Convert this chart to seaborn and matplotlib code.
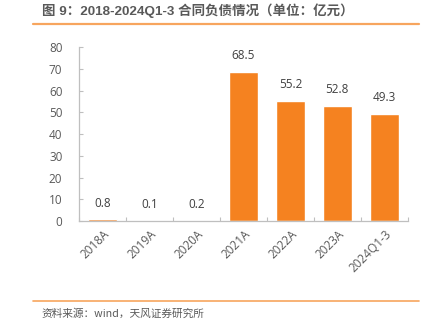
import matplotlib
matplotlib.use("Agg")
import matplotlib.pyplot as plt
import seaborn as sns
import pandas as pd

categories = ["2018A", "2019A", "2020A", "2021A", "2022A", "2023A", "2024Q1-3"]
values = [0.8, 0.1, 0.2, 68.5, 55.2, 52.8, 49.3]
labels = ["0.8", "0.1", "0.2", "68.5", "55.2", "52.8", "49.3"]
yticks = [0, 10, 20, 30, 40, 50, 60, 70, 80]

sns.set_theme(style="white")
plt.rcParams['font.family'] = ['Open Sans', 'Noto Sans CJK SC', 'DejaVu Sans']

BAR = "#F58220"
SPINE = "#BFBFBF"
TXT = "#595959"
LINE = "#F7A55E"

fig = plt.figure(figsize=(4.32, 3.27), dpi=100)
ax = fig.add_axes([0.183, 0.324, 0.761, 0.532])

df = pd.DataFrame({"cat": categories, "val": values})
sns.barplot(data=df, x="cat", y="val", color=BAR, width=0.62, saturation=1, ax=ax)

for i, (v, lab) in enumerate(zip(values, labels)):
    ax.text(i, v + 4.5, lab, ha="center", va="bottom", fontsize=8.5, color="#404040")

ax.set_ylim(0, 80)
ax.set_yticks(yticks)
ax.set_xlim(-0.5, len(categories) - 0.5)
ax.set_xlabel("")
ax.set_ylabel("")
ax.set_xticks([i - 0.5 for i in range(len(categories) + 1)], minor=True)
ax.set_xticks(range(len(categories)))
ax.set_xticklabels(categories, rotation=45, ha="right", rotation_mode="anchor")
ax.tick_params(axis="x", which="major", length=0, labelsize=8.5, labelcolor=TXT, pad=5)
ax.tick_params(axis="x", which="minor", direction="in", length=3, color=SPINE, width=0.8, bottom=True)
ax.tick_params(axis="y", direction="in", length=3, color=SPINE, width=0.8, labelsize=8.5, labelcolor=TXT, pad=12, left=True)
for s in ["top", "right"]:
    ax.spines[s].set_visible(False)
for s in ["left", "bottom"]:
    ax.spines[s].set_color(SPINE)
    ax.spines[s].set_linewidth(0.9)

fig.text(0.097, 1 - 11/327, "图 9：2018-2024Q1-3 合同负债情况（单位：亿元）", ha="left", va="center",
         fontsize=9.7, fontweight="bold", color=TXT,
         family=['Liberation Sans', 'Noto Sans CJK SC'])
fig.add_artist(plt.Line2D([33/432, 419/432], [1 - 23.5/327, 1 - 23.5/327], color=LINE, lw=1.6))
fig.add_artist(plt.Line2D([33/432, 419/432], [1 - 300.7/327, 1 - 300.7/327], color=LINE, lw=1.2))
fig.text(0.097, 1 - 314/327, "资料来源：wind，天风证券研究所", ha="left", va="center",
         fontsize=7.7, color=TXT, family=['Noto Sans CJK SC', 'DejaVu Sans'])

fig.savefig("out.png", dpi=100)
